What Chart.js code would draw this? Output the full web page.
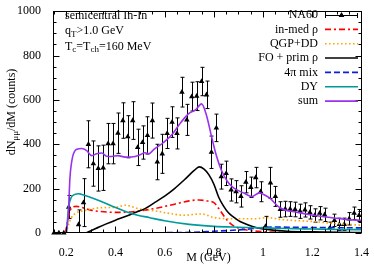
<!DOCTYPE html>
<html><head><meta charset="utf-8">
<script src="https://cdn.jsdelivr.net/npm/chart.js@4/dist/chart.umd.min.js"></script>
<style>html,body{margin:0;padding:0;background:#fff}#wrap{width:374px;height:264px;position:relative}</style>
</head><body><div id="wrap"><canvas id="c"></canvas></div>
<script>
// ---- data ----
const xTickValues = [0.2, 0.4, 0.6, 0.8, 1.0, 1.2, 1.4];
const xTickLabels = ['0.2', '0.4', '0.6', '0.8', '1', '1.2', '1.4'];
const yTickValues = [0, 200, 400, 600, 800, 1000];
const yTickLabels = ['0', '200', '400', '600', '800', '1000'];

const na60Mass = [0.15,0.17,0.19,0.21,0.25,0.27,0.29,0.31,0.33,0.35,0.37,0.39,0.41,0.43,0.45,0.47,0.49,0.51,0.53,0.55,0.57,0.59,0.61,0.63,0.65,0.67,0.69,0.71,0.73,0.75,0.77,0.79,0.81,0.83,0.85,0.87,0.89,0.91,0.93,0.95,0.97,0.99,1.01,1.03,1.05,1.07,1.09,1.11,1.13,1.15,1.17,1.19,1.21,1.23,1.25,1.27,1.29,1.31,1.33,1.35,1.37,1.39];
const na60Counts = [0,0,0,117,38,137,400,313,291,294,403,403,450,507,434,507,386,408,440,507,320,357,449,500,449,635,510,615,617,683,623,364,474,254,269,194,186,165,229,206,250,186,30,226,165,106,108,108,106,98,104,93,79,89,82,21,57,39,39,64,89,79];
const na60Err = [0,0,0,52,66,108,106,102,102,102,91,91,91,80,95,85,82,75,84,79,80,88,68,69,70,67,70,65,65,64,62,73,62,56,55,50,50,48,48,46,46,45,45,70,45,35,35,33,33,32,32,30,30,30,30,28,28,28,28,28,28,27];

const inMedMass = [0.196,0.205,0.212,0.22,0.24,0.26,0.30,0.34,0.40,0.46,0.52,0.58,0.64,0.70,0.74,0.77,0.80,0.82,0.84,0.86,0.88,0.90,0.94,1.0,1.1,1.2,1.4];
const inMedVals = [0,50,90,110,120,116,103,97,93,95,103,115,130,145,149,145,137,110,78,50,32,22,12,6,3,2,1];

const qgpMass = [0.2,0.21,0.22,0.24,0.27,0.30,0.34,0.40,0.44,0.50,0.56,0.62,0.68,0.72,0.75,0.80,0.88,0.96,1.02,1.08,1.2,1.3,1.4];
const qgpVals = [0,40,68,90,100,108,114,116,125,108,100,88,80,84,86,70,64,64,69,60,52,42,35];

const foMass = [0.28,0.32,0.36,0.40,0.44,0.48,0.52,0.56,0.60,0.64,0.68,0.72,0.74,0.76,0.78,0.80,0.82,0.84,0.86,0.88,0.90,0.92,0.96,1.0,1.05,1.1,1.2,1.3,1.4];
const foVals = [0,20,40,58,74,92,110,138,166,200,240,282,298,288,262,220,160,120,90,72,56,45,28,18,12,8,5,3,2];

const mixMass = [0.28,0.5,0.7,0.8,0.9,0.96,1.0,1.05,1.1,1.2,1.3,1.4];
const mixVals = [0,1,3,8,14,20,25,27,26,25,24,23];

const dyMass = [0.2,0.205,0.21,0.22,0.235,0.25,0.26,0.30,0.34,0.40,0.47,0.54,0.60,0.70,0.80,0.90,1.0,1.1,1.2,1.3,1.4];
const dyVals = [0,60,120,160,174,177,175,160,143,115,86,69,55,39,30,26,23,20,18,16,15];

const sumMass = [0.2,0.208,0.215,0.225,0.243,0.263,0.283,0.303,0.323,0.344,0.364,0.384,0.41,0.44,0.48,0.50,0.52,0.535,0.555,0.595,0.63,0.66,0.68,0.70,0.725,0.75,0.77,0.79,0.81,0.83,0.855,0.88,0.92,0.955,0.985,1.0,1.025,1.07,1.14,1.21,1.28,1.35,1.4];
const sumVals = [0,80,250,340,378,381,371,349,357,361,346,345,349,342,345,353,362,357,376,408,444,490,518,540,555,582,530,437,349,284,232,203,181,164,181,175,159,113,93,79,69,60,57];

const legendLabels = ['NA60', 'in-med ρ', 'QGP+DD', 'FO + prim ρ', '4π mix', 'DY', 'sum'];

// ---- chart ----
const FONT = '"Liberation Serif", "DejaVu Serif", serif';
function pts(ms, vs) { return ms.map((m, i) => ({ x: m, y: vs[i] })); }

const datasets = [
  { label: legendLabels[0], data: pts(na60Mass, na60Counts), showLine: false, pointStyle: 'triangle',
    pointRadius: 3.2, backgroundColor: '#000', borderColor: '#000', borderWidth: 0, order: 10, clip: false },
  { label: legendLabels[1], data: pts(inMedMass, inMedVals), borderColor: '#ff0000', borderWidth: 1.6,
    borderDash: [6, 3, 2, 3], pointRadius: 0, order: 6, cubicInterpolationMode: 'monotone' },
  { label: legendLabels[2], data: pts(qgpMass, qgpVals), borderColor: '#ffa500', borderWidth: 1.6,
    borderDash: [1.6, 2.4], pointRadius: 0, order: 5, cubicInterpolationMode: 'monotone' },
  { label: legendLabels[3], data: pts(foMass, foVals), borderColor: '#000000', borderWidth: 1.6,
    pointRadius: 0, order: 4, cubicInterpolationMode: 'monotone' },
  { label: legendLabels[4], data: pts(mixMass, mixVals), borderColor: '#0a1ee6', borderWidth: 1.6,
    borderDash: [6, 3], pointRadius: 0, order: 3, cubicInterpolationMode: 'monotone' },
  { label: legendLabels[5], data: pts(dyMass, dyVals), borderColor: '#009a9a', borderWidth: 1.6,
    pointRadius: 0, order: 2, cubicInterpolationMode: 'monotone' },
  { label: legendLabels[6], data: pts(sumMass, sumVals), borderColor: '#9b30ee', borderWidth: 1.6,
    pointRadius: 0, order: 1, cubicInterpolationMode: 'monotone' }
];

function drawRich(ctx, parts, x, y, align) {
  const main = '12px ' + FONT, sub = '9px ' + FONT;
  let w = 0;
  parts.forEach(p => { ctx.font = p[1] ? sub : main; w += ctx.measureText(p[0]).width; });
  let cx = align === 'center' ? x - w / 2 : (align === 'right' ? x - w : x);
  ctx.textAlign = 'left'; ctx.textBaseline = 'middle';
  parts.forEach(p => {
    ctx.font = p[1] ? sub : main;
    ctx.fillText(p[0], cx, p[1] ? y + 3.5 : y);
    cx += ctx.measureText(p[0]).width;
  });
}

const decor = {
  id: 'decor',
  beforeDatasetsDraw(chart) {
    const ctx = chart.ctx, xs = chart.scales.x, ys = chart.scales.y, ca = chart.chartArea;
    ctx.save();
    ctx.beginPath(); ctx.rect(ca.left - 3, ca.top, ca.right - ca.left + 6, ca.bottom - ca.top); ctx.clip();
    ctx.strokeStyle = '#000'; ctx.lineWidth = 1;
    na60Mass.forEach((m, i) => {
      const e = na60Err[i]; if (!e) return;
      const px = Math.round(xs.getPixelForValue(m)) + 0.5;
      const y1 = ys.getPixelForValue(na60Counts[i] + e), y2 = ys.getPixelForValue(na60Counts[i] - e);
      ctx.beginPath();
      ctx.moveTo(px, y1); ctx.lineTo(px, y2);
      ctx.moveTo(px - 2, y1); ctx.lineTo(px + 2, y1);
      ctx.moveTo(px - 2, y2); ctx.lineTo(px + 2, y2);
      ctx.stroke();
    });
    ctx.restore();
  },
  afterDatasetsDraw(chart) {
    const ctx = chart.ctx, xs = chart.scales.x, ys = chart.scales.y, ca = chart.chartArea;
    ctx.save();
    ctx.strokeStyle = '#000'; ctx.lineWidth = 1;
    const L = Math.round(ca.left) + 0.5, R = Math.round(ca.right) - 0.5, T = Math.round(ca.top) + 0.5, B = Math.round(ca.bottom) - 0.5;
    ctx.strokeRect(L, T, R - L, B - T);
    ctx.beginPath();
    for (let k = 3; k <= 28; k++) {
      const v = k * 0.05; const px = Math.round(xs.getPixelForValue(v)) + 0.5;
      if (px < L || px > R) continue;
      const len = (k % 4 === 0) ? 6 : 3;
      ctx.moveTo(px, B); ctx.lineTo(px, B - len);
      ctx.moveTo(px, T); ctx.lineTo(px, T + len);
    }
    for (let v = 0; v <= 1000; v += 50) {
      const py = Math.round(ys.getPixelForValue(v)) + 0.5;
      const len = (v % 200 === 0) ? 6 : 3;
      ctx.moveTo(L, py); ctx.lineTo(L + len, py);
      ctx.moveTo(R, py); ctx.lineTo(R - len, py);
    }
    ctx.stroke();
    ctx.restore();
  },
  afterDraw(chart) {
    const ctx = chart.ctx;
    ctx.save();
    ctx.fillStyle = '#000';
    // annotations
    ctx.font = '12px ' + FONT; ctx.textAlign = 'left'; ctx.textBaseline = 'middle';
    ctx.fillText('semicentral In-In', 65, 16);
    drawRich(ctx, [['q', 0], ['T', 1], ['>1.0 GeV', 0]], 65, 31, 'left');
    drawRich(ctx, [['T', 0], ['c', 1], ['=T', 0], ['ch', 1], ['=160 MeV', 0]], 65, 46.5, 'left');
    // axis titles
    ctx.font = '12px ' + FONT; ctx.textAlign = 'center'; ctx.textBaseline = 'middle';
    ctx.fillText('M (GeV)', 208.5, 257.5);
    ctx.save();
    ctx.translate(12, 112); ctx.rotate(-Math.PI / 2);
    drawRich(ctx, [['dN', 0], ['μμ', 1], ['/dM (counts)', 0]], 0, 0, 'center');
    ctx.restore();
    // legend
    const ds = chart.data.datasets;
    for (let i = 0; i < legendLabels.length; i++) {
      const y = 15 + i * 14.35;
      ctx.font = '12px ' + FONT; ctx.textAlign = 'right'; ctx.textBaseline = 'middle'; ctx.fillStyle = '#000';
      ctx.fillText(legendLabels[i], 318, y);
      const d = ds[i];
      ctx.save();
      if (i === 0) {
        const yy = Math.round(y) + 0.5;
        ctx.strokeStyle = '#000'; ctx.lineWidth = 1;
        ctx.beginPath();
        ctx.moveTo(325, yy); ctx.lineTo(358, yy);
        ctx.moveTo(325.5, yy - 2.5); ctx.lineTo(325.5, yy + 2.5);
        ctx.moveTo(357.5, yy - 2.5); ctx.lineTo(357.5, yy + 2.5);
        ctx.stroke();
        Chart.helpers.drawPoint(ctx, { pointStyle: 'triangle', radius: 3.2, borderWidth: 0 }, 341.5, yy);
        ctx.fillStyle = '#000'; ctx.fill();
      } else {
        ctx.strokeStyle = d.borderColor; ctx.lineWidth = d.borderWidth;
        ctx.setLineDash(d.borderDash || []);
        ctx.beginPath(); ctx.moveTo(325, y); ctx.lineTo(358, y); ctx.stroke();
      }
      ctx.restore();
    }
    ctx.restore();
  }
};

new Chart(document.getElementById('c'), {
  type: 'line',
  data: { datasets },
  options: {
    responsive: true, maintainAspectRatio: false, animation: false,
    layout: { padding: { top: 5, right: 10, left: 0, bottom: 0 } },
    plugins: { legend: { display: false }, tooltip: { enabled: false } },
    scales: {
      x: {
        type: 'linear', min: 0.146, max: 1.4,
        grid: { display: false }, border: { display: false },
        afterBuildTicks: s => { s.ticks = xTickValues.map(v => ({ value: v })); },
        ticks: { autoSkip: false, maxRotation: 0, padding: 5, color: '#000', font: { family: FONT, size: 12 },
          callback: (v) => { const i = xTickValues.findIndex(t => Math.abs(t - v) < 1e-6); return i >= 0 ? xTickLabels[i] : ''; } },
        afterFit: s => { s.height = 31; }
      },
      y: {
        type: 'linear', min: 0, max: 1000,
        grid: { display: false }, border: { display: false },
        afterBuildTicks: s => { s.ticks = yTickValues.map(v => ({ value: v })); },
        ticks: { padding: 4, color: '#000', font: { family: FONT, size: 12 },
          callback: (v) => { const i = yTickValues.indexOf(v); return i >= 0 ? yTickLabels[i] : ''; } },
        afterFit: s => { s.width = 53; }
      }
    }
  },
  plugins: [decor]
});
</script>
</body></html>
